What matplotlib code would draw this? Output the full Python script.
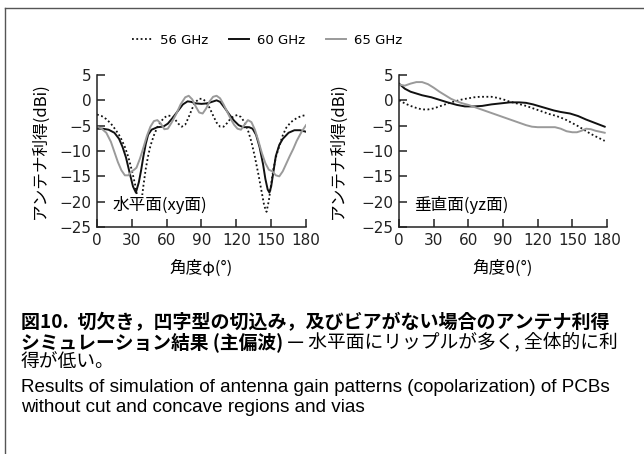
import matplotlib
matplotlib.use("Agg")
import matplotlib.pyplot as plt
from matplotlib.lines import Line2D

plt.rcParams["font.family"] = ["DejaVu Sans", "Noto Sans CJK JP"]
plt.rcParams["axes.unicode_minus"] = True

# Horizontal plane (xy), angle phi
h56_x = [0, 4, 8, 12, 16, 20, 24, 27, 30, 33, 35, 36.5, 38, 40, 42, 44, 46, 49, 52, 55, 58, 61,
         64, 67, 70, 73, 76, 79, 82, 85, 88, 91, 94, 97, 100, 103, 106, 109, 112, 115, 118, 121,
         124, 127, 130, 133, 136, 139, 142, 144, 146, 148, 150, 152, 154, 157, 160, 163, 167,
         172, 176, 180]
h56_y = [-2.8, -3.1, -3.7, -4.6, -5.8, -7.2, -9.2, -11.2, -13.8, -16.8, -19.5, -21.8, -20.5,
         -16.8, -13.5, -11.0, -9.0, -6.9, -5.3, -4.2, -3.4, -3.0, -3.1, -3.7, -4.6, -5.2, -4.8,
         -3.3, -1.6, -0.3, 0.3, 0.3, -0.3, -1.5, -3.0, -4.4, -5.2, -5.2, -4.5, -3.6, -3.1, -2.9,
         -3.3, -4.3, -5.9, -8.2, -11.2, -14.6, -18.3, -20.8, -22.0, -19.8, -16.5, -13.5, -11.3,
         -9.0, -6.9, -5.4, -4.3, -3.5, -3.1, -2.9]

h60_x = [0, 5, 10, 15, 19, 22, 25, 28, 31, 33.5, 36, 38, 40, 42, 44, 47, 52, 57, 61, 65, 70,
         74, 78, 81, 85, 90, 95, 99, 103, 106, 110, 114, 118, 122, 126, 131, 134, 137, 140, 143,
         145, 147, 148.5, 150, 152, 154, 157, 160, 165, 170, 175, 180]
h60_y = [-5.6, -5.6, -5.8, -6.4, -7.6, -9.2, -11.3, -14.2, -17.0, -18.2, -16.2, -13.8, -11.0,
         -8.6, -6.8, -5.8, -5.3, -5.2, -4.6, -3.5, -2.0, -0.8, -0.2, -0.3, -0.6, -0.7, -0.6,
         -0.3, 0.0, -0.3, -1.5, -2.8, -4.0, -4.9, -5.3, -5.3, -5.6, -6.8, -9.2, -12.6, -15.5,
         -17.6, -18.2, -17.0, -14.0, -11.0, -8.8, -7.6, -6.4, -5.9, -5.9, -6.2]

h65_x = [0, 4, 8, 12, 15, 18, 21, 24, 27, 30, 32, 34, 37, 40, 43, 46, 49, 52, 55, 58, 61, 64,
         68, 72, 76, 79, 82, 85, 88, 91, 94, 97, 100, 103, 106, 109, 112, 115, 118, 121, 124,
         127, 130, 133, 136, 139, 142, 145, 148, 151, 154, 157, 160, 163, 166, 169, 172, 176, 180]
h65_y = [-5.2, -5.6, -6.4, -8.2, -10.2, -12.2, -13.8, -14.8, -14.8, -14.0, -13.7, -13.3,
         -11.5, -9.3, -7.0, -5.2, -4.1, -3.9, -4.6, -5.7, -5.6, -4.5, -2.8, -0.8, 0.6, 0.9, 0.2,
         -1.2, -2.4, -2.6, -1.6, -0.2, 0.7, 0.9, 0.4, -0.8, -2.2, -3.6, -4.8, -5.6, -5.8, -4.8,
         -3.9, -4.3, -5.8, -8.0, -10.4, -12.4, -13.7, -14.0, -14.8, -15.0, -14.0, -12.5, -11.0,
         -9.6, -8.0, -6.3, -4.9]

# Vertical plane (yz), angle theta
v56_x = [0, 5, 10, 15, 20, 25, 30, 35, 40, 45, 50, 55, 60, 65, 70, 75, 80, 85, 90, 95, 100,
         105, 110, 115, 120, 125, 130, 135, 140, 145, 150, 155, 160, 165, 170, 178]
v56_y = [0.0, -0.6, -1.1, -1.5, -1.8, -1.8, -1.6, -1.2, -0.8, -0.4, -0.1, 0.2, 0.4, 0.6, 0.7,
         0.7, 0.7, 0.5, 0.2, -0.2, -0.5, -0.8, -1.1, -1.5, -1.9, -2.3, -2.7, -3.0, -3.4, -3.9,
         -4.5, -5.1, -5.8, -6.5, -7.1, -8.0]

v60_x = [0, 5, 10, 15, 20, 28, 35, 42, 50, 57, 65, 72, 80, 88, 96, 104, 110, 116, 122, 128,
         134, 140, 148, 155, 162, 170, 178]
v60_y = [3.3, 2.3, 1.7, 1.35, 1.0, 0.6, 0.1, -0.4, -0.9, -1.2, -1.2, -1.1, -0.8, -0.6, -0.4,
         -0.4, -0.5, -0.8, -1.2, -1.6, -2.0, -2.3, -2.6, -3.1, -3.8, -4.5, -5.2]

v65_x = [0, 5, 10, 15, 20, 25, 30, 35, 40, 45, 50, 55, 60, 65, 70, 75, 80, 85, 90, 95, 100,
         105, 110, 115, 120, 128, 135, 140, 145, 150, 154, 158, 162, 166, 170, 178]
v65_y = [3.1, 2.9, 3.3, 3.6, 3.6, 3.2, 2.5, 1.7, 1.0, 0.3, -0.2, -0.6, -0.9, -1.3, -1.7, -2.1,
         -2.5, -2.9, -3.3, -3.7, -4.1, -4.5, -4.9, -5.2, -5.3, -5.3, -5.3, -5.6, -6.1, -6.3,
         -6.3, -6.0, -5.6, -5.7, -6.0, -6.4]

series_labels = ["56 GHz", "60 GHz", "65 GHz"]
x_ticks = [0, 30, 60, 90, 120, 150, 180]
y_ticks = [-25, -20, -15, -10, -5, 0, 5]

W, H = 644, 454
JP = ["Noto Sans CJK JP"]
DOT = dict(color="#111111", lw=1.3, linestyle=(0, (1, 1.4)))
BLK = dict(color="#111111", lw=1.4)
GRY = dict(color="#9a9a9a", lw=1.4)


def style_axes(ax, xlabel, note):
    ax.set_xlim(0, 180)
    ax.set_ylim(-25, 5)
    ax.set_xticks(x_ticks)
    ax.set_yticks(y_ticks)
    ax.spines["top"].set_visible(False)
    ax.spines["right"].set_visible(False)
    for s in ("left", "bottom"):
        ax.spines[s].set_linewidth(1.1)
        ax.spines[s].set_color("#222222")
    ax.tick_params(direction="in", length=6, width=1.1, labelsize=11, pad=4, colors="#222222")
    ax.set_facecolor("none")
    ax.text(0.5, -0.27, xlabel, transform=ax.transAxes, ha="center", va="center",
            fontsize=12, family=JP)
    # note box hides the curves behind it, as in the original
    ax.text(0.072, 0.145, note, transform=ax.transAxes, ha="left", va="center",
            fontsize=12, family=JP, zorder=5,
            bbox=dict(facecolor="white", edgecolor="none", pad=0.5))
    ax.set_ylabel("アンテナ利得(dBi)", fontsize=12, family=JP)


fig = plt.figure(figsize=(W / 100, H / 100), dpi=100)

ax1 = fig.add_axes([97 / W, 1 - 227 / H, 209 / W, 152 / H])
l56, = ax1.plot(h56_x, h56_y, **DOT)
l60, = ax1.plot(h60_x, h60_y, **BLK)
l65, = ax1.plot(h65_x, h65_y, **GRY)
style_axes(ax1, "角度φ(°)", "水平面(xy面)")
ax1.yaxis.set_label_coords(-0.232, 0.5)

ax2 = fig.add_axes([399 / W, 1 - 227 / H, 208 / W, 152 / H])
ax2.plot(v56_x, v56_y, **DOT)
ax2.plot(v60_x, v60_y, **BLK)
ax2.plot(v65_x, v65_y, **GRY)
style_axes(ax2, "角度θ(°)", "垂直面(yz面)")
ax2.yaxis.set_label_coords(-0.253, 0.5)

fig.legend([l56, l60, l65], series_labels, loc="center", ncol=3, frameon=False,
           bbox_to_anchor=(267 / W, 1 - 40 / H), fontsize=9.5, handlelength=1.5,
           handletextpad=0.6, columnspacing=1.6)

# frame (left and top)
fig.add_artist(Line2D([4.5 / W, 4.5 / W], [0, 1 - 8 / H], color="#555555", lw=1,
                      transform=fig.transFigure))
fig.add_artist(Line2D([4.5 / W, 1], [1 - 8 / H, 1 - 8 / H], color="#555555", lw=1,
                      transform=fig.transFigure))

# caption
cap_x = 21 / W
fig.text(cap_x, 1 - 323 / H, "図10.  切欠き，凹字型の切込み，及びビアがない場合のアンテナ利得",
         fontsize=13.7, fontweight="bold", va="center", family=JP)
t2 = fig.text(cap_x, 1 - 342 / H, "シミュレーション結果 (主偏波)", fontsize=13.5,
              fontweight="bold", va="center", family=JP)
ax1.annotate(" — 水平面にリップルが多く, 全体的に利", xy=(1, 0.5), xycoords=t2,
             ha="left", va="center", fontsize=13.5, family=JP, annotation_clip=False)
fig.text(cap_x, 1 - 362 / H, "得が低い。", fontsize=13.5, va="center", family=JP)
fig.text(cap_x, 1 - 388 / H,
         "Results of simulation of antenna gain patterns (copolarization) of PCBs",
         fontsize=13.6, va="center", family=["Liberation Sans"])
fig.text(cap_x, 1 - 408 / H, "without cut and concave regions and vias", fontsize=13.6,
         va="center", family=["Liberation Sans"])

fig.savefig("out.png", dpi=100)
